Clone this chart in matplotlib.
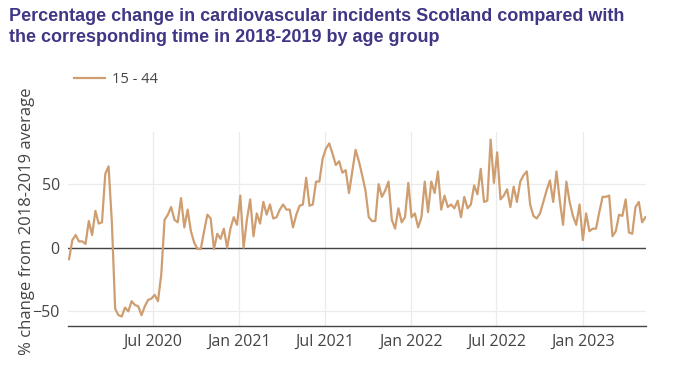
import pandas as pd
import numpy as np
import matplotlib
matplotlib.use('Agg')
import matplotlib.pyplot as plt
import matplotlib.dates as mdates

# weekly percentage change vs 2018-2019 average, age group 15 - 44
fechas = pd.date_range('2020-01-05', periods=176, freq='7D')
cambio_pct = [
    -9, 6, 10, 5, 5, 3, 21, 10, 29, 19,
    20, 58, 64, 20, -48, -53, -54, -47, -50, -42,
    -45, -46, -53, -46, -41, -40, -37, -42, -21, 22,
    26, 32, 22, 20, 39, 16, 30, 13, 4, -1,
    -1, 13, 26, 23, -1, 11, 7, 15, 0, 15,
    24, 18, 41, 0, 22, 38, 9, 27, 19, 36,
    26, 34, 23, 24, 30, 34, 30, 30, 16, 26,
    33, 34, 55, 33, 34, 52, 52, 70, 78, 82,
    74, 65, 68, 59, 61, 43, 60, 77, 68, 57,
    45, 24, 21, 21, 50, 40, 45, 52, 22, 15,
    31, 20, 24, 51, 24, 27, 16, 24, 52, 28,
    52, 43, 60, 30, 41, 32, 34, 31, 37, 24,
    40, 31, 34, 49, 42, 62, 36, 37, 85, 51,
    75, 38, 41, 46, 32, 48, 36, 52, 57, 60,
    34, 25, 23, 27, 36, 45, 53, 36, 60, 37,
    18, 52, 36, 25, 18, 34, 6, 27, 13, 15,
    15, 28, 40, 40, 41, 9, 13, 26, 25, 38,
    12, 11, 32, 36, 20, 24,
]
serie = '15 - 44'
titulo = ('Percentage change in cardiovascular incidents Scotland compared with\n'
          'the corresponding time in 2018-2019 by age group')
etiqueta_y = '% change from 2018-2019 average'
ticks_y = [-50, 0, 50]

gris = '#444444'
plt.rcParams['font.family'] = ['Open Sans', 'DejaVu Sans']

fig = plt.figure(figsize=(6.95, 3.76), dpi=100)
ax = fig.add_axes([0.098, 0.133, 0.832, 0.516])

ax.plot(fechas, cambio_pct, color='#CF9E70', lw=1.6, label=serie, zorder=3)
ax.axhline(0, color=gris, lw=1.0, zorder=2)

ax.set_xlim(fechas[0] - pd.Timedelta(days=2), fechas[-1] + pd.Timedelta(days=2))
ax.set_ylim(-61.5, 91)
ax.set_yticks(ticks_y)
ax.xaxis.set_major_locator(mdates.MonthLocator(bymonth=[1, 7]))
ax.xaxis.set_major_formatter(mdates.DateFormatter('%b %Y'))

ax.grid(True, color='#ebebeb', lw=0.9, zorder=0)
for lado in ['top', 'right', 'left']:
    ax.spines[lado].set_visible(False)
ax.spines['bottom'].set_color(gris)
ax.spines['bottom'].set_linewidth(1.0)
ax.tick_params(length=0, labelsize=11.5, labelcolor=gris, pad=6)
ax.set_ylabel(etiqueta_y, fontsize=12, color=gris, va='center')
ax.yaxis.set_label_coords(-0.071, 0.54)

fig.text(0.013, 0.978, titulo, fontsize=13, fontweight='bold', color='#3F3685',
         family='Liberation Sans', va='top', linespacing=1.3)

leg = ax.legend(loc='lower left', bbox_to_anchor=(0.0, 1.2), frameon=False,
                fontsize=10.5, labelcolor=gris, handlelength=2.1, borderaxespad=0,
                handletextpad=0.5)

fig.savefig('out.png', dpi=100)
